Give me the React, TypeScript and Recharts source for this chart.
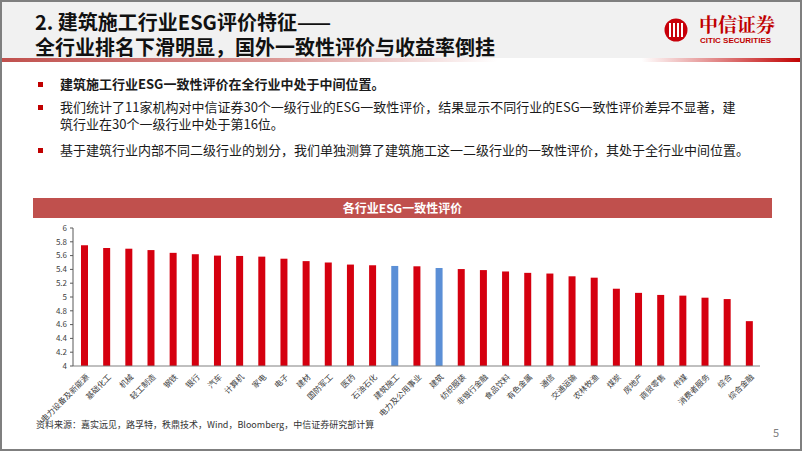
import React from 'react';
import { BarChart, Bar, XAxis, YAxis, Cell } from 'recharts';

const categories = [
  '电力设备及新能源', '基础化工', '机械', '轻工制造', '钢铁', '银行', '汽车', '计算机',
  '家电', '电子', '建材', '国防军工', '医药', '石油石化', '建筑施工', '电力及公用事业',
  '建筑', '纺织服装', '非银行金融', '食品饮料', '有色金属', '通信', '交通运输', '农林牧渔',
  '煤炭', '房地产', '商贸零售', '传媒', '消费者服务', '综合', '综合金融',
];
const scores = [
  5.75, 5.71, 5.70, 5.68, 5.64, 5.62, 5.60, 5.595, 5.585, 5.555, 5.52, 5.50, 5.47, 5.46,
  5.45, 5.445, 5.42, 5.405, 5.39, 5.37, 5.35, 5.34, 5.30, 5.28, 5.12, 5.06, 5.03, 5.02,
  4.99, 4.97, 4.65,
];
const highlighted = ['建筑施工', '建筑'];
const yTicks = [4, 4.2, 4.4, 4.6, 4.8, 5, 5.2, 5.4, 5.6, 5.8, 6];

const chartTitle = '各行业ESG一致性评价';
const pageTitle = ['2. 建筑施工行业ESG评价特征——', '全行业排名下滑明显，国外一致性评价与收益率倒挂'];
const bullets = [
  { lines: ['建筑施工行业ESG一致性评价在全行业中处于中间位置。'], bold: true },
  {
    lines: [
      '我们统计了11家机构对中信证券30个一级行业的ESG一致性评价，结果显示不同行业的ESG一致性评价差异不显著，建',
      '筑行业在30个一级行业中处于第16位。',
    ],
    bold: false,
  },
  { lines: ['基于建筑行业内部不同二级行业的划分，我们单独测算了建筑施工这一二级行业的一致性评价，其处于全行业中间位置。'], bold: false },
];
const source = '资料来源：嘉实远见，路孚特，秩鼎技术，Wind，Bloomberg，中信证券研究部计算';

const data = categories.map((name, i) => ({ name, value: scores[i] }));

const FONT = '"Noto Sans CJK SC", "Noto Sans", sans-serif';
const RED = '#d5000f';
const BLUE = '#5b8fd6';

const CatTick = (props: any) => {
  const { x, y, payload } = props;
  return (
    <g transform={`translate(${x + 2},${y})`}>
      <text
        x={0}
        y={0}
        dy={5}
        textAnchor="end"
        transform="rotate(-45)"
        fontSize={8}
        fill="#404040"
        fontFamily={FONT}
      >
        {payload.value}
      </text>
    </g>
  );
};

export default function App() {
  const bulletTops = [76, 99, 142];
  return (
    <div
      style={{
        position: 'absolute',
        left: 0,
        top: 0,
        width: 802,
        height: 451,
        background: '#fff',
        fontFamily: FONT,
        overflow: 'hidden',
      }}
    >
      {/* header */}
      <div style={{ position: 'absolute', left: 0, top: 0, width: 802, height: 58, background: '#f1f1f1' }} />
      <div
        style={{
          position: 'absolute',
          left: 0,
          top: 58,
          width: 802,
          height: 4,
          background: 'linear-gradient(to right, #c0504d 0%, #dc9a98 35%, #ffffff 62%, #ffffff 80%, #c00000 100%)',
        }}
      />
      {pageTitle.map((t, i) => (
        <div
          key={i}
          style={{
            position: 'absolute',
            left: 35,
            top: 11 + i * 25,
            fontSize: 20,
            fontWeight: 700,
            lineHeight: '22px',
            color: '#111',
            whiteSpace: 'nowrap',
          }}
        >
          {t}
        </div>
      ))}

      {/* logo */}
      <svg style={{ position: 'absolute', left: 662, top: 16 }} width={28} height={28}>
        <circle cx={14} cy={14} r={11.5} fill="#c8000a" />
        {[7, 11, 15, 19].map((px) => (
          <rect key={px} x={px} y={7} width={2} height={14} fill="#fff" />
        ))}
      </svg>
      <div
        style={{
          position: 'absolute',
          left: 699,
          top: 14,
          fontSize: 19,
          fontWeight: 700,
          color: '#c00000',
          fontFamily: '"Noto Serif CJK SC", "Noto Sans CJK SC", serif',
          lineHeight: '20px',
          whiteSpace: 'nowrap',
        }}
      >
        中信证券
      </div>
      <div
        style={{
          position: 'absolute',
          left: 700,
          top: 36,
          fontSize: 8,
          fontWeight: 700,
          color: '#c00000',
          fontFamily: '"Liberation Sans Narrow", "Liberation Sans", sans-serif',
          lineHeight: '9px',
          whiteSpace: 'nowrap',
        }}
      >
        CITIC SECURITIES
      </div>

      {/* bullets */}
      {bullets.map((b, i) => (
        <div key={i}>
          <div
            style={{ position: 'absolute', left: 38, top: bulletTops[i] + 6, width: 5, height: 5, background: '#c00000' }}
          />
          {b.lines.map((ln, j) => (
            <div
              key={j}
              style={{
                position: 'absolute',
                left: 60,
                top: bulletTops[i] + j * 17,
                fontSize: 13,
                lineHeight: '16px',
                fontWeight: b.bold ? 700 : 400,
                color: '#1a1a1a',
                whiteSpace: 'nowrap',
              }}
            >
              {ln}
            </div>
          ))}
        </div>
      ))}

      {/* chart title bar */}
      <div
        style={{
          position: 'absolute',
          left: 33,
          top: 198,
          width: 739,
          height: 20,
          background: '#c0504d',
          color: '#fff',
          fontSize: 12,
          fontWeight: 700,
          lineHeight: '20px',
          textAlign: 'center',
        }}
      >
        {chartTitle}
      </div>

      {/* chart */}
      <div style={{ position: 'absolute', left: 0, top: 218 }}>
        <BarChart width={802} height={230} data={data} margin={{ top: 10, right: 42, bottom: 0, left: 33 }}>
          <XAxis
            dataKey="name"
            interval={0}
            axisLine={{ stroke: '#808080' }}
            tickLine={false}
            tick={<CatTick />}
            height={82}
          />
          <YAxis
            domain={[4, 6]}
            ticks={yTicks}
            width={40}
            interval={0}
            axisLine={{ stroke: '#595959' }}
            tickLine={{ stroke: '#595959' }}
            tickSize={3}
            tickMargin={3}
            tick={{ fontSize: 8, fill: '#404040', fontFamily: FONT }}
            tickFormatter={(v: number) => String(Number(v.toFixed(1)))}
          />
          <Bar dataKey="value" barSize={7} isAnimationActive={false}>
            {data.map((d) => (
              <Cell key={d.name} fill={highlighted.includes(d.name) ? BLUE : RED} />
            ))}
          </Bar>
        </BarChart>
      </div>

      {/* footer */}
      <div
        style={{
          position: 'absolute',
          left: 36,
          top: 419,
          fontSize: 9,
          color: '#333',
          whiteSpace: 'nowrap',
          lineHeight: '12px',
        }}
      >
        {source}
      </div>
      <div style={{ position: 'absolute', left: 773, top: 424, fontSize: 11, color: '#7f7f7f' }}>5</div>

      {/* frame */}
      <div
        style={{
          position: 'absolute',
          left: 0,
          top: 0,
          width: 802,
          height: 451,
          boxSizing: 'border-box',
          border: '2px solid #7f7f7f',
          pointerEvents: 'none',
        }}
      />
    </div>
  );
}
